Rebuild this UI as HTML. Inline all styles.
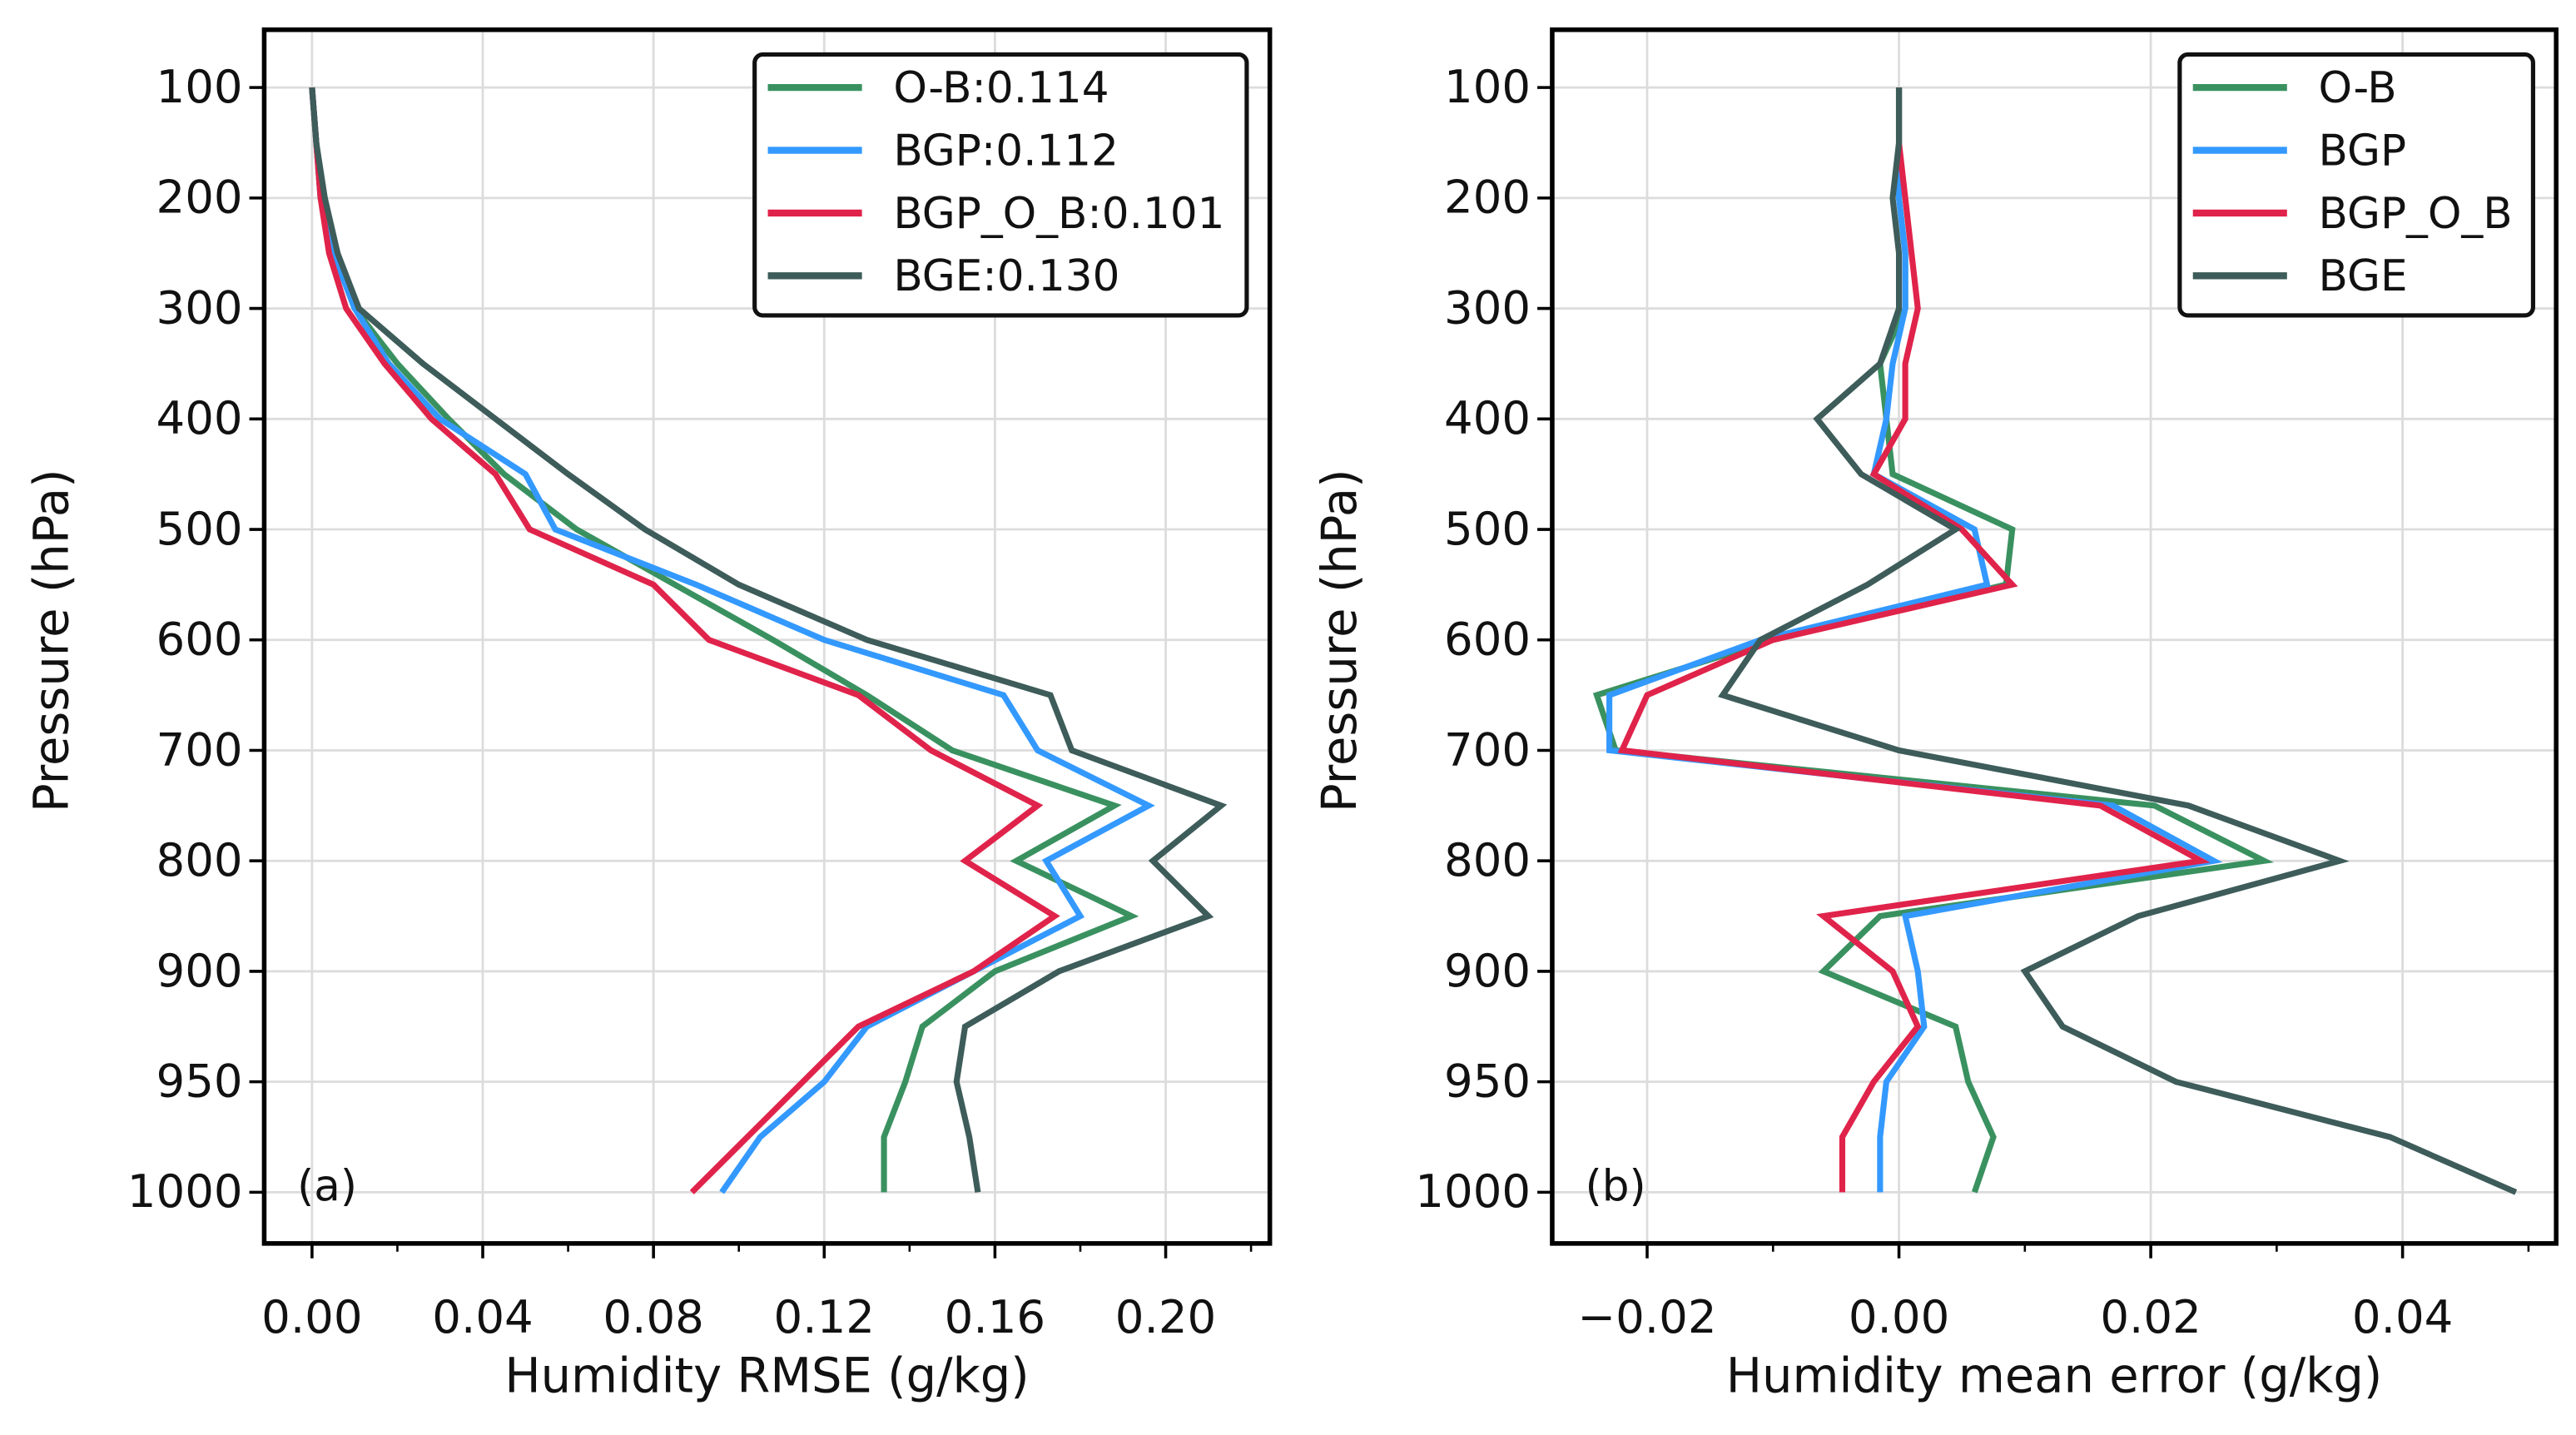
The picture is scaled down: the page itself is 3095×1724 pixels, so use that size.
<!DOCTYPE html>
<html><head><meta charset="utf-8"><style>
html,body{margin:0;padding:0;background:#fff;}
svg{display:block;}
text{font-family:"DejaVu Sans","Liberation Sans",sans-serif;fill:#111;}
</style></head><body>
<svg id="chart" width="3095" height="1724" viewBox="0 0 1560 869" preserveAspectRatio="none" xmlns="http://www.w3.org/2000/svg"></svg>
<script>
const levels=[100,150,200,250,300,350,400,450,500,550,600,650,700,750,800,850,900,925,950,975,1000];
const tickLevels=["100","200","300","400","500","600","700","800","900","950","1000"];
const seriesNames=["O-B","BGP","BGP_O_B","BGE"];
const rmseLegend=["O-B:0.114","BGP:0.112","BGP_O_B:0.101","BGE:0.130"];
const rmseOB=[0,0.001,0.002,0.005,0.010,0.020,0.032,0.045,0.062,0.085,0.108,0.130,0.150,0.188,0.165,0.192,0.160,0.143,0.139,0.134,0.134];
const rmseBGP=[0,0.001,0.002,0.005,0.010,0.018,0.030,0.050,0.057,0.090,0.120,0.162,0.170,0.196,0.172,0.180,0.155,0.130,0.120,0.105,0.096];
const rmseBGPOB=[0,0.001,0.002,0.004,0.008,0.017,0.028,0.043,0.051,0.080,0.093,0.128,0.145,0.170,0.153,0.174,0.155,0.128,0.115,0.102,0.089];
const rmseBGE=[0,0.001,0.003,0.006,0.011,0.026,0.043,0.060,0.078,0.100,0.130,0.173,0.178,0.213,0.197,0.210,0.175,0.153,0.151,0.154,0.156];
const meOB=[0,0,0,0.0005,0.0005,-0.0015,-0.001,-0.0005,0.009,0.0085,-0.010,-0.024,-0.0225,0.0203,0.029,-0.0015,-0.006,0.0045,0.0055,0.0075,0.006];
const meBGP=[0,0,0,0.0005,0.0005,-0.0005,-0.001,-0.002,0.006,0.007,-0.011,-0.023,-0.023,0.017,0.025,0.0005,0.0015,0.002,-0.001,-0.0015,-0.0015];
const meBGPOB=[0,0,0.0005,0.001,0.0015,0.0005,0.0005,-0.002,0.005,0.009,-0.010,-0.020,-0.022,0.016,0.024,-0.006,-0.0005,0.0015,-0.002,-0.0045,-0.0045];
const meBGE=[0,0,-0.0005,0,0,-0.0015,-0.0065,-0.003,0.0045,-0.0025,-0.011,-0.014,0.0,0.023,0.035,0.019,0.010,0.013,0.022,0.039,0.049];
const rmseTicks=[0,0.04,0.08,0.12,0.16,0.20];
const rmseTickLabels=["0.00","0.04","0.08","0.12","0.16","0.20"];
const meTicks=[-0.02,0,0.02,0.04];
const meTickLabels=["\u22120.02","0.00","0.02","0.04"];
const colors=["#3a9160","#3399ff","#e0234a","#3d5c5a"];

const NS="http://www.w3.org/2000/svg";
const svg=document.getElementById('chart');
function mk(tag,attrs,parent){const e=document.createElementNS(NS,tag);for(const k in attrs)e.setAttribute(k,attrs[k]);(parent||svg).appendChild(e);return e;}
const Y0=53, DY=66.9;
function levelPos(l){
  if(l<=900) return (l-100)/100;
  return 8+(l-900)/50;
}
function yS(l){return Y0+levelPos(l)*DY;}

function panel(cfg){
  const g=mk('g',{});
  
  
  const xS=v=>cfg.L+(v-cfg.xmin)/(cfg.xmax-cfg.xmin)*(cfg.R-cfg.L);
  cfg.ticks.forEach((t,i)=>{const l=mk('line',{x1:xS(t),x2:xS(t),y1:cfg.T,y2:cfg.B,stroke:'#dcdcdc','stroke-width':1.4},g);
    });
  tickLevels.forEach(t=>{const l=mk('line',{x1:cfg.L,x2:cfg.R,y1:yS(+t),y2:yS(+t),stroke:'#dcdcdc','stroke-width':1.4},g);
    });
  cfg.series.forEach((s,i)=>{
    const pts=s.map((v,j)=>xS(v).toFixed(2)+','+yS(levels[j]).toFixed(2)).join(' ');
    const p=mk('polyline',{points:pts,fill:'none',stroke:colors[i],'stroke-width':3.6,'stroke-linejoin':'miter'},g);
    
    
  });
  const f=mk('rect',{x:cfg.L,y:cfg.T,width:cfg.R-cfg.L,height:cfg.B-cfg.T,fill:'none',stroke:'#000','stroke-width':2.8},g);
  
  cfg.ticks.forEach((t,i)=>{
    const x=xS(t);
    mk('line',{x1:x,x2:x,y1:cfg.B,y2:cfg.B+9,stroke:'#000','stroke-width':1.8},g);
    const tx=mk('text',{x:x,y:cfg.B+54,'font-size':27.5,'text-anchor':'middle'},g);
    tx.textContent=cfg.tickLabels[i];
    
  });
  cfg.minor.forEach(t=>{const x=xS(t);mk('line',{x1:x,x2:x,y1:cfg.B,y2:cfg.B+5,stroke:'#000','stroke-width':1.3},g);});
  tickLevels.forEach(t=>{
    const y=yS(+t);
    mk('line',{x1:cfg.L-9,x2:cfg.L,y1:y,y2:y,stroke:'#000','stroke-width':1.8},g);
    const tx=mk('text',{x:cfg.L-13,y:y+9,'font-size':27.5,'text-anchor':'end'},g);
    tx.textContent=t;
    
  });
  const xt=mk('text',{x:(cfg.L+cfg.R)/2,y:843,'font-size':29,'text-anchor':'middle'},g);
  xt.textContent=cfg.xlabel;
  const yt=mk('text',{x:0,y:0,'font-size':29,'text-anchor':'middle',transform:`translate(${cfg.L-119},388) rotate(-90)`},g);
  yt.textContent='Pressure (hPa)';
  const pl=mk('text',{x:cfg.L+20,y:727,'font-size':26},g);
  pl.textContent=cfg.tag;
  const lg=mk('g',{},g);
  mk('rect',{x:cfg.lgx,y:33,width:cfg.lgw,height:158,rx:5,fill:'#fff',stroke:'#111','stroke-width':2.6},lg);
  cfg.legend.forEach((name,i)=>{
    const y=53+i*38;
    mk('line',{x1:cfg.lgx+8,x2:cfg.lgx+65,y1:y,y2:y,stroke:colors[i],'stroke-width':4.2},lg);
    const tx=mk('text',{x:cfg.lgx+84,y:y+9,'font-size':26},lg);
    tx.textContent=name;
  });
}
panel({name:'rmse-panel',L:160,R:769,T:18,B:753,xmin:-0.0112,xmax:0.2244,ticks:rmseTicks,tickLabels:rmseTickLabels,
  minor:[0.02,0.06,0.10,0.14,0.18,0.22],series:[rmseOB,rmseBGP,rmseBGPOB,rmseBGE],
  xlabel:'Humidity RMSE (g/kg)',tag:'(a)',legend:rmseLegend,lgx:457,lgw:298});
panel({name:'mean-error-panel',L:940,R:1548,T:18,B:753,xmin:-0.02754,xmax:0.0522,ticks:meTicks,tickLabels:meTickLabels,
  minor:[-0.01,0.01,0.03,0.05],series:[meOB,meBGP,meBGPOB,meBGE],
  xlabel:'Humidity mean error (g/kg)',tag:'(b)',legend:seriesNames,lgx:1320,lgw:214});
</script>
</body></html>
